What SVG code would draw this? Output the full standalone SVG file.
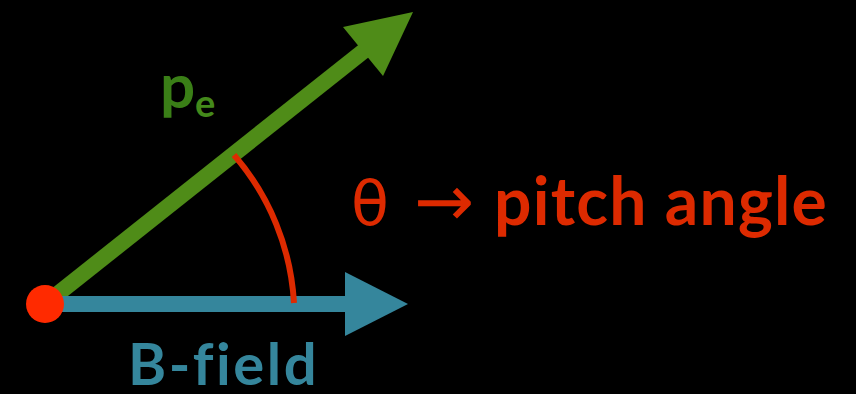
<svg xmlns="http://www.w3.org/2000/svg" width="856" height="394" viewBox="0 0 856 394">
<style>
.lbl{font-family:Lato,"Open Sans","Liberation Sans",sans-serif;font-weight:700;font-variant-ligatures:none}
</style>
<rect width="856" height="394" fill="#000"/>
<g id="connectors">
  <g id="p-vector">
    <line x1="45" y1="304" x2="370" y2="46" stroke="#4f8c18" stroke-width="16"/>
    <polygon points="413,12 343,27 383,76" fill="#4f8c18"/>
  </g>
  <g id="b-vector">
    <line x1="45" y1="304" x2="350" y2="304" stroke="#35869c" stroke-width="16"/>
    <polygon points="408,304 345,272 345,336" fill="#35869c"/>
  </g>
  <path id="angle-arc" d="M234,155 A248,248 0 0 1 294,303" fill="none" stroke="#dd2a00" stroke-width="6"/>
</g>
<g id="origin"><circle cx="45" cy="304" r="19" fill="#ff2a00"/></g>
<g id="pe-label">
  <text class="lbl" x="160" y="108" font-size="62" fill="#3a7f17">p</text>
  <text class="lbl" x="195" y="117" font-size="38" fill="#44891b">e</text>
</g>
<g id="bfield-label"><text class="lbl" x="128" y="385" font-size="58" letter-spacing="2.5" fill="#35869c">B-field</text></g>
<g id="pitch-label">
  <text x="351" y="225" font-family="'DejaVu Sans',sans-serif" font-size="62" fill="#dd2a00">θ</text>
  <text x="414" y="226" font-family="'DejaVu Sans',sans-serif" font-size="72" fill="#dd2a00">→</text>
  <text class="lbl" x="494" y="225" font-size="66" letter-spacing="1.2" fill="#dd2a00">pitch angle</text>
</g>
</svg>
